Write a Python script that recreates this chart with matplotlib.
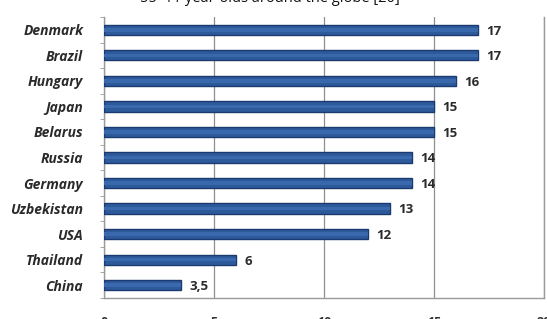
import matplotlib
matplotlib.use("Agg")
import matplotlib.pyplot as plt

title = "55–11 year-olds around the globe [20]"
countries = ["Denmark", "Brazil", "Hungary", "Japan", "Belarus", "Russia",
             "Germany", "Uzbekistan", "USA", "Thailand", "China"]
values = [17, 17, 16, 15, 15, 14, 14, 13, 12, 6, 3.5]
value_labels = ["17", "17", "16", "15", "15", "14", "14", "13", "12", "6", "3,5"]
xticks = [0, 5, 10, 15, 20]

W, H = 547, 319
fig = plt.figure(figsize=(W / 100, H / 100), dpi=100)
fig.patch.set_facecolor("white")

left, right, top, bottom = 104, 544, 17, 298
ax = fig.add_axes([left / W, (H - bottom) / H, (right - left) / W, (bottom - top) / H])

ypos = list(range(len(countries)))
ax.barh(ypos, values, height=0.4, color="#2d5a9b", edgecolor="#1b3a70",
        linewidth=1.0, zorder=3)
ax.barh(ypos, values, height=0.14, color="#3a68ac", linewidth=0,
        zorder=4, align="center")

for y, v, lab in zip(ypos, values, value_labels):
    ax.annotate(lab, xy=(v, y), xytext=(6, -1), textcoords="offset points",
                va="center", ha="left", fontsize=9.5, fontweight="bold",
                family="Open Sans", color="#2a2a2a")

ax.set_xlim(0, 20)
ax.set_ylim(len(countries) - 0.5, -0.5)
ax.set_xticks(xticks)
ax.set_xticklabels([str(t) for t in xticks], fontsize=9, fontweight="bold",
                   family="Open Sans", color="#333333")
ax.tick_params(axis="x", length=0, pad=13)
ax.set_yticks(ypos)
ax.set_yticklabels(countries, fontsize=10, fontweight="bold", style="italic",
                   family="Open Sans", color="#2a2a2a")
ax.tick_params(axis="y", length=0, pad=15)
ax.set_yticks([i + 0.5 for i in range(-1, len(countries))], minor=True)
ax.tick_params(axis="y", which="minor", length=3, color="#999999", direction="out")

ax.grid(axis="x", color="#8f8f8f", linewidth=0.9, zorder=0)
ax.spines["top"].set_visible(False)
for s in ["left", "bottom", "right"]:
    ax.spines[s].set_color("#9a9a9a")
    ax.spines[s].set_linewidth(1.0)

fig.text(0.494, 317.5 / H, title, ha="center", va="baseline", fontsize=10.5,
         family="Open Sans", color="#111111")

fig.savefig("out.png", dpi=100)
